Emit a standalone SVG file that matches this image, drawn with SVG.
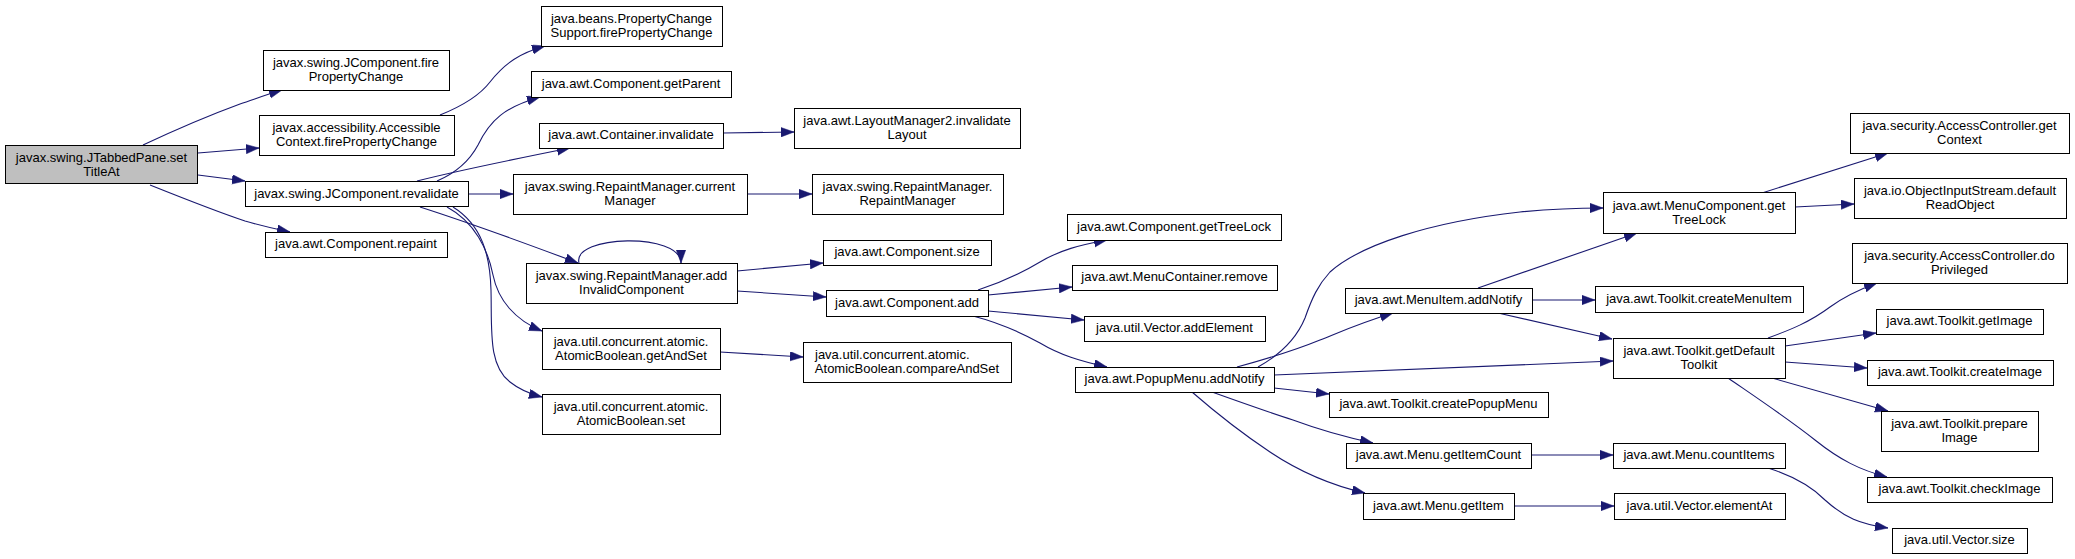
<svg xmlns="http://www.w3.org/2000/svg" width="2075" height="559" viewBox="0 0 2075 559">
<style>
.node rect{fill:#ffffff;stroke:#000000;stroke-width:1}
.root rect{fill:#bfbfbf}
text{font-family:"Liberation Sans",Arial,sans-serif;font-size:13px;fill:#000000;text-anchor:middle}
.edges path{fill:none;stroke:#191970;stroke-width:1.1;marker-end:url(#arr)}
</style>
<defs>
<marker id="arr" markerUnits="userSpaceOnUse" markerWidth="14" markerHeight="10" refX="13" refY="4.7" orient="auto">
<path d="M0,0 L13,4.7 L0,9.4 z" fill="#191970" stroke="#191970" stroke-width="0.5"/>
</marker>
</defs>
<rect x="0" y="0" width="2075" height="559" fill="#ffffff"/>
<g class="edges" id="connectors">
<path d="M143,145 C175,130 210,115 240,104 C255,99 268,94 282,90"/>
<path d="M198,153 L259,148"/>
<path d="M198,175 L245,181"/>
<path d="M150,185 C180,197 215,211 245,221 C262,226 275,229 290,232"/>
<path d="M440,115 C465,105 480,95 490,82 C505,63 520,53 545,46"/>
<path d="M437,181 C458,172 470,160 478,145 C490,120 505,107 540,97"/>
<path d="M417,181 C460,170 520,158 570,148"/>
<path d="M468,194 L513,194"/>
<path d="M420,207 C470,223 530,245 578,263"/>
<path d="M447,207 C475,222 488,250 493,275 C498,300 515,320 542,331"/>
<path d="M453,207 C482,225 490,255 491,290 C492,330 488,365 510,382 C520,390 530,394 542,397"/>
<path d="M579,263 C572,235 681,232 681,263"/>
<path d="M737,271 L823,263"/>
<path d="M737,291 L826,297"/>
<path d="M720,352 L803,357"/>
<path d="M747,194 L812,194"/>
<path d="M723,133 L794,132"/>
<path d="M978,290 C1000,283 1020,274 1040,262 C1060,250 1080,245 1107,240"/>
<path d="M988,295 L1072,287"/>
<path d="M988,311 L1084,320"/>
<path d="M973,316 C1000,323 1020,332 1040,343 C1060,355 1080,361 1107,367"/>
<path d="M1258,367 C1285,352 1298,335 1305,318 C1312,298 1318,285 1330,272 C1360,245 1430,222 1520,212 C1550,209 1575,208 1603,208"/>
<path d="M1237,367 C1270,358 1298,349 1320,340 C1340,332 1360,323 1393,313"/>
<path d="M1274,375 L1613,361"/>
<path d="M1274,388 L1329,394"/>
<path d="M1212,392 C1240,402 1268,412 1293,420 C1320,430 1345,437 1373,443"/>
<path d="M1192,392 C1215,412 1240,432 1270,452 C1300,472 1330,485 1365,493"/>
<path d="M1478,288 L1637,233"/>
<path d="M1532,300 L1595,300"/>
<path d="M1498,313 L1612,339"/>
<path d="M1762,193 L1888,153"/>
<path d="M1795,207 L1854,204"/>
<path d="M1768,338 C1790,330 1810,322 1830,307 C1845,296 1858,290 1877,283"/>
<path d="M1785,346 L1876,333"/>
<path d="M1785,362 L1867,368"/>
<path d="M1772,378 L1888,411"/>
<path d="M1728,378 C1760,400 1790,420 1815,440 C1840,460 1860,470 1887,477"/>
<path d="M1531,455 L1613,455"/>
<path d="M1514,506 L1614,506"/>
<path d="M1768,468 C1790,475 1810,485 1825,500 C1845,518 1860,524 1888,528"/>
</g>
<g id="n0" class="node root"><rect x="5.5" y="145.5" width="192" height="38"/><text x="101.5" y="161.5">javax.swing.JTabbedPane.set</text><text x="101.5" y="175.5">TitleAt</text></g>
<g id="n1" class="node"><rect x="263.5" y="50.5" width="186" height="40"/><text x="356" y="67">javax.swing.JComponent.fire</text><text x="356" y="81">PropertyChange</text></g>
<g id="n2" class="node"><rect x="259.5" y="115.5" width="195" height="40"/><text x="356.5" y="132">javax.accessibility.Accessible</text><text x="356.5" y="146">Context.firePropertyChange</text></g>
<g id="n3" class="node"><rect x="245.5" y="181.5" width="223" height="25"/><text x="356.5" y="197.5">javax.swing.JComponent.revalidate</text></g>
<g id="n4" class="node"><rect x="265.5" y="232.5" width="182" height="25"/><text x="356" y="248">java.awt.Component.repaint</text></g>
<g id="n5" class="node"><rect x="541.5" y="6.5" width="181" height="40"/><text x="631.5" y="23">java.beans.PropertyChange</text><text x="631.5" y="37">Support.firePropertyChange</text></g>
<g id="n6" class="node"><rect x="531.5" y="71.5" width="200" height="26"/><text x="631" y="87.5">java.awt.Component.getParent</text></g>
<g id="n7" class="node"><rect x="539.5" y="123.5" width="184" height="25"/><text x="631" y="139">java.awt.Container.invalidate</text></g>
<g id="n8" class="node"><rect x="794.5" y="108.5" width="226" height="40"/><text x="907" y="125">java.awt.LayoutManager2.invalidate</text><text x="907" y="139">Layout</text></g>
<g id="n9" class="node"><rect x="513.5" y="174.5" width="234" height="40"/><text x="630" y="191">javax.swing.RepaintManager.current</text><text x="630" y="205">Manager</text></g>
<g id="n10" class="node"><rect x="812.5" y="174.5" width="191" height="40"/><text x="907.5" y="191">javax.swing.RepaintManager.</text><text x="907.5" y="205">RepaintManager</text></g>
<g id="n11" class="node"><rect x="526.5" y="263.5" width="211" height="40"/><text x="631.5" y="280">javax.swing.RepaintManager.add</text><text x="631.5" y="294">InvalidComponent</text></g>
<g id="n12" class="node"><rect x="823.5" y="240.5" width="168" height="25"/><text x="907" y="256">java.awt.Component.size</text></g>
<g id="n13" class="node"><rect x="826.5" y="290.5" width="162" height="26"/><text x="907" y="306.5">java.awt.Component.add</text></g>
<g id="n14" class="node"><rect x="542.5" y="328.5" width="178" height="41"/><text x="631" y="345.5">java.util.concurrent.atomic.</text><text x="631" y="359.5">AtomicBoolean.getAndSet</text></g>
<g id="n15" class="node"><rect x="803.5" y="342.5" width="208" height="40"/><text x="815" y="359" style="text-anchor:start">java.util.concurrent.atomic.</text><text x="907" y="373">AtomicBoolean.compareAndSet</text></g>
<g id="n16" class="node"><rect x="542.5" y="394.5" width="178" height="40"/><text x="631" y="411">java.util.concurrent.atomic.</text><text x="631" y="425">AtomicBoolean.set</text></g>
<g id="n17" class="node"><rect x="1067.5" y="214.5" width="214" height="26"/><text x="1174" y="230.5">java.awt.Component.getTreeLock</text></g>
<g id="n18" class="node"><rect x="1072.5" y="265.5" width="205" height="25"/><text x="1174.5" y="281">java.awt.MenuContainer.remove</text></g>
<g id="n19" class="node"><rect x="1084.5" y="316.5" width="181" height="25"/><text x="1174.5" y="332">java.util.Vector.addElement</text></g>
<g id="n20" class="node"><rect x="1075.5" y="367.5" width="199" height="25"/><text x="1174.5" y="383">java.awt.PopupMenu.addNotify</text></g>
<g id="n21" class="node"><rect x="1345.5" y="288.5" width="187" height="25"/><text x="1438.5" y="304">java.awt.MenuItem.addNotify</text></g>
<g id="n22" class="node"><rect x="1329.5" y="392.5" width="219" height="25"/><text x="1438.5" y="408">java.awt.Toolkit.createPopupMenu</text></g>
<g id="n23" class="node"><rect x="1346.5" y="443.5" width="185" height="25"/><text x="1438.5" y="459">java.awt.Menu.getItemCount</text></g>
<g id="n24" class="node"><rect x="1363.5" y="493.5" width="151" height="26"/><text x="1438.5" y="509.5">java.awt.Menu.getItem</text></g>
<g id="n25" class="node"><rect x="1603.5" y="192.5" width="192" height="41"/><text x="1699" y="209.5">java.awt.MenuComponent.get</text><text x="1699" y="223.5">TreeLock</text></g>
<g id="n26" class="node"><rect x="1850.5" y="113.5" width="219" height="40"/><text x="1959.5" y="130">java.security.AccessController.get</text><text x="1959.5" y="144">Context</text></g>
<g id="n27" class="node"><rect x="1854.5" y="178.5" width="212" height="40"/><text x="1960" y="195">java.io.ObjectInputStream.default</text><text x="1960" y="209">ReadObject</text></g>
<g id="n28" class="node"><rect x="1852.5" y="243.5" width="215" height="40"/><text x="1959.5" y="260">java.security.AccessController.do</text><text x="1959.5" y="274">Privileged</text></g>
<g id="n29" class="node"><rect x="1595.5" y="286.5" width="208" height="26"/><text x="1699" y="302.5">java.awt.Toolkit.createMenuItem</text></g>
<g id="n30" class="node"><rect x="1613.5" y="338.5" width="172" height="40"/><text x="1699" y="355">java.awt.Toolkit.getDefault</text><text x="1699" y="369">Toolkit</text></g>
<g id="n31" class="node"><rect x="1876.5" y="309.5" width="167" height="25"/><text x="1959.5" y="325">java.awt.Toolkit.getImage</text></g>
<g id="n32" class="node"><rect x="1867.5" y="360.5" width="186" height="25"/><text x="1960" y="376">java.awt.Toolkit.createImage</text></g>
<g id="n33" class="node"><rect x="1881.5" y="411.5" width="157" height="40"/><text x="1959.5" y="428">java.awt.Toolkit.prepare</text><text x="1959.5" y="442">Image</text></g>
<g id="n34" class="node"><rect x="1867.5" y="477.5" width="185" height="25"/><text x="1959.5" y="493">java.awt.Toolkit.checkImage</text></g>
<g id="n35" class="node"><rect x="1613.5" y="443.5" width="172" height="25"/><text x="1699" y="459">java.awt.Menu.countItems</text></g>
<g id="n36" class="node"><rect x="1614.5" y="493.5" width="171" height="26"/><text x="1699.5" y="509.5">java.util.Vector.elementAt</text></g>
<g id="n37" class="node"><rect x="1892.5" y="528.5" width="135" height="25"/><text x="1959.5" y="544">java.util.Vector.size</text></g>
</svg>
